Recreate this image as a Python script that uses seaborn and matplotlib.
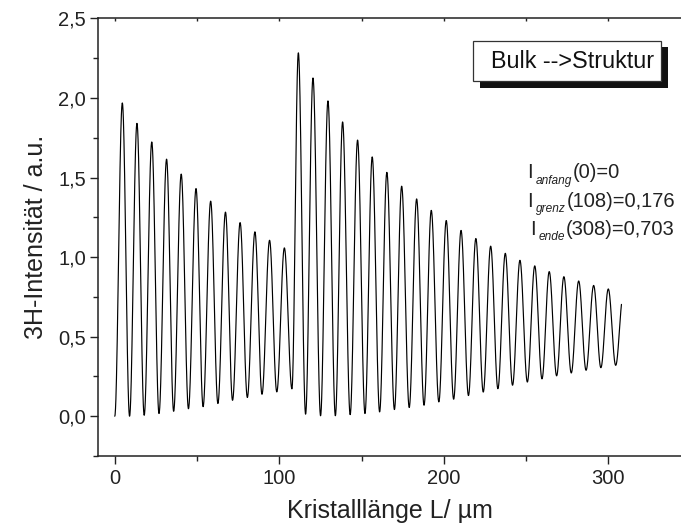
import numpy as np
import pandas as pd
import matplotlib
matplotlib.use("Agg")
import matplotlib.pyplot as plt
import seaborn as sns
from matplotlib.ticker import MultipleLocator, FuncFormatter
from matplotlib.patches import Rectangle
from matplotlib.transforms import offset_copy

# --- extrema of the third-harmonic intensity (read as maxima / minima) ---
# bulk section, 0 .. 108 um
bulk_peak_x = [4.6, 13.5, 22.5, 31.5, 40.4, 49.4, 58.3, 67.3, 76.2, 85.2, 94.1, 103.1]
bulk_peak_y = [1.969, 1.841, 1.724, 1.616, 1.522, 1.431, 1.352, 1.283, 1.217, 1.159, 1.106, 1.058]
bulk_trough_x = [0.0, 9.0, 17.9, 26.9, 35.8, 44.8, 53.7, 62.7, 71.6, 80.6, 89.5, 98.5, 107.7]
bulk_trough_y = [0.0, 0.0, 0.006, 0.017, 0.031, 0.047, 0.060, 0.080, 0.100, 0.118, 0.138, 0.153, 0.172]

# structured section, 108 .. 308 um
struct_peak_x = [111.6, 120.5, 129.6, 138.5, 147.6, 156.5, 165.4, 174.4, 183.5, 192.4, 201.5,
                 210.5, 219.5, 228.5, 237.4, 246.3, 255.3, 264.1, 273.0, 282.0, 291.1, 300.0]
struct_peak_y = [2.284, 2.126, 1.982, 1.850, 1.736, 1.630, 1.533, 1.446, 1.366, 1.294, 1.230,
                 1.168, 1.117, 1.069, 1.024, 0.980, 0.945, 0.909, 0.877, 0.850, 0.822, 0.800]
struct_trough_x = [116.0, 125.1, 134.1, 143.1, 152.1, 161.0, 170.0, 179.0, 188.0, 197.0, 206.0,
                   215.0, 224.0, 232.9, 241.8, 250.8, 259.7, 268.6, 277.5, 286.5, 295.5, 304.5]
struct_trough_y = [0.013, 0.003, 0.003, 0.010, 0.017, 0.027, 0.042, 0.055, 0.069, 0.090, 0.107,
                   0.130, 0.152, 0.173, 0.195, 0.215, 0.235, 0.254, 0.272, 0.289, 0.305, 0.320]

end_x = 308.0
end_y = 0.703

x_ticks = [0, 100, 200, 300]
y_ticks = [0.0, 0.5, 1.0, 1.5, 2.0, 2.5]
label_x = "Kristalllänge L/ µm"
label_y = "3H-Intensität / a.u."
box_text = "Bulk -->Struktur"
notes = [("anfang", "(0)=0"), ("grenz", "(108)=0,176"), ("ende", "(308)=0,703")]

# --- build a smooth oscillation passing through the extrema ---
ext_x = np.array(bulk_trough_x + bulk_peak_x + struct_peak_x + struct_trough_x)
ext_y = np.array(bulk_trough_y + bulk_peak_y + struct_peak_y + struct_trough_y)
order = np.argsort(ext_x)
ext_x, ext_y = ext_x[order], ext_y[order]

xs, ys = [], []
for i in range(len(ext_x) - 1):
    t = np.linspace(0, 1, 40, endpoint=False)
    xs.append(ext_x[i] + (ext_x[i + 1] - ext_x[i]) * t)
    ys.append(ext_y[i] + (ext_y[i + 1] - ext_y[i]) * (1 - np.cos(np.pi * t)) / 2)
# final rising flank, cut off at the crystal end
half = (ext_x[-1] - ext_x[-2])
frac = (end_x - ext_x[-1]) / half
t = np.linspace(0, 1, 40)
xs.append(ext_x[-1] + (end_x - ext_x[-1]) * t)
ys.append(ext_y[-1] + (end_y - ext_y[-1]) * (1 - np.cos(np.pi * frac * t)) / (1 - np.cos(np.pi * frac)))

df = pd.DataFrame({"L": np.concatenate(xs), "I": np.concatenate(ys)})

# --- styling ---
sns.set_theme(style="ticks")
plt.rcParams["font.family"] = ["Liberation Sans", "DejaVu Sans"]

W, H = 681, 525
fig = plt.figure(figsize=(W / 100, H / 100), dpi=100)
ax = fig.add_axes([98.3 / W, (H - 456) / H, 1 - 98.3 / W, (456 - 18.5) / H])

sns.lineplot(data=df, x="L", y="I", ax=ax, color="black", linewidth=0.85,
             estimator=None, sort=False)

ax.set_xlim(-10, 344.2)
ax.set_ylim(-0.25, 2.5)
ax.set_xticks(x_ticks)
ax.set_yticks(y_ticks)
ax.xaxis.set_minor_locator(MultipleLocator(50))
ax.yaxis.set_minor_locator(MultipleLocator(0.25))
ax.yaxis.set_major_formatter(FuncFormatter(lambda v, p: f"{v:.1f}".replace(".", ",")))
ax.xaxis.set_major_formatter(FuncFormatter(lambda v, p: f"{v:.0f}"))

for s in ["left", "bottom", "top"]:
    ax.spines[s].set_color("#222222")
    ax.spines[s].set_linewidth(1.1)
ax.spines["right"].set_visible(False)

ax.tick_params(axis="both", which="major", direction="out", length=6, width=1.0,
               color="#222222", labelsize=14.5, labelcolor="#222222", pad=3)
ax.tick_params(axis="both", which="minor", direction="out", length=3.5, width=1.0,
               color="#222222")
ax.tick_params(axis="x", which="both", top=True, labeltop=False)
for tk in ax.xaxis.get_major_ticks() + ax.xaxis.get_minor_ticks():
    tk.tick2line.set_markersize(2)
    tk.tick2line.set_marker(matplotlib.lines.TICKDOWN)

ax.set_xlabel(label_x, fontsize=18, color="#222222", labelpad=8)
ax.set_ylabel(label_y, fontsize=18, color="#222222", labelpad=7)

# annotation lines I_sub(L)=value, pieced together with a deep subscript
renderer = fig.canvas.get_renderer()
base_y = [1.497, 1.318, 1.140]
left_x = [250.6, 250.6, 252.3]
for (sub, rest), yy, xx in zip(notes, base_y, left_x):
    t1 = ax.text(xx, yy, "I", fontsize=14.5, color="#222222", va="baseline", ha="left")
    w1 = t1.get_window_extent(renderer).width
    tr2 = offset_copy(ax.transData, fig=fig, x=(w1 + 3.5) * 0.72, y=-5.5 * 0.72, units="points")
    t2 = ax.text(xx, yy, sub, fontsize=8.6, style="italic", color="#222222",
                 va="baseline", ha="left", transform=tr2)
    w2 = t2.get_window_extent(renderer).width
    tr3 = offset_copy(ax.transData, fig=fig, x=(w1 + 3.5 + w2 + 0.5) * 0.72, y=0, units="points")
    ax.text(xx, yy, rest, fontsize=14.5, color="#222222", va="baseline", ha="left", transform=tr3)

# framed label with drop shadow
def px_rect(x0, y0, x1, y1, **kw):
    return Rectangle((x0 / W, 1 - y1 / H), (x1 - x0) / W, (y1 - y0) / H,
                     transform=fig.transFigure, **kw)

fig.patches.append(px_rect(479.5, 47.5, 668, 87.5, facecolor="#111111", edgecolor="none", zorder=3))
fig.patches.append(px_rect(472.7, 41, 661, 81, facecolor="white", edgecolor="#333333",
                           linewidth=0.9, zorder=4))
fig.text(573 / W, 1 - 61.5 / H, box_text, fontsize=16.8, color="#111111",
         ha="center", va="center", zorder=5)

fig.savefig("out.png", dpi=100)
